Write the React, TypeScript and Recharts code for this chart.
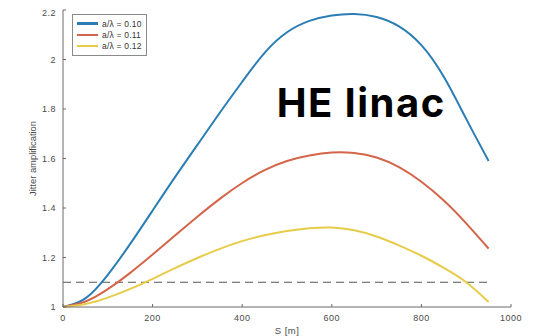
import React from 'react';
import { LineChart, Line, XAxis, YAxis, ReferenceLine, Legend } from 'recharts';

// Position along the linac, S [m]
const positions = [0, 50, 100, 150, 200, 250, 300, 350, 400, 450, 500, 550, 600, 650, 700, 750, 800, 850, 900, 950];

// Jitter amplification for each iris aperture ratio a/λ
const ampRatio010 = [1.0, 1.035, 1.13, 1.255, 1.39, 1.525, 1.655, 1.785, 1.91, 2.027, 2.11, 2.156, 2.178, 2.184, 2.172, 2.134, 2.058, 1.93, 1.76, 1.59];
const ampRatio011 = [1.0, 1.022, 1.072, 1.138, 1.212, 1.289, 1.365, 1.437, 1.501, 1.553, 1.59, 1.612, 1.624, 1.622, 1.604, 1.565, 1.506, 1.43, 1.338, 1.236];
const ampRatio012 = [1.0, 1.012, 1.038, 1.073, 1.114, 1.157, 1.198, 1.235, 1.266, 1.29, 1.307, 1.318, 1.321, 1.31, 1.285, 1.249, 1.207, 1.158, 1.1, 1.02];

const seriesNames = ['a/λ = 0.10', 'a/λ = 0.11', 'a/λ = 0.12'];
const seriesColors = ['#2b7db5', '#d4654a', '#e6cc48'];

const thresholdLevel = 1.1;
const thresholdEnd = 950;

const xTicks = [0, 200, 400, 600, 800, 1000];
const yTicks = [1, 1.2, 1.4, 1.6, 1.8, 2, 2.2];

const chartData = positions.map((s, i) => ({
  s,
  r010: ampRatio010[i],
  r011: ampRatio011[i],
  r012: ampRatio012[i],
}));

const seriesKeys = ['r010', 'r011', 'r012'];

const FONT = '"Liberation Sans", Arial, sans-serif';
const AXIS_GRAY = '#6b6b6b';
const TEXT_GRAY = '#4a4a4a';

const tickStyle = { fontSize: 9, fill: TEXT_GRAY, fontFamily: FONT, letterSpacing: 0.5 };

function LegendBox() {
  return (
    <div
      style={{
        border: '1px solid #8a8a8a',
        background: '#fff',
        padding: '3px 4px 3px 4px',
        width: 75,
        boxSizing: 'border-box',
        fontFamily: FONT,
        fontSize: 8.5,
        letterSpacing: 0.2,
        color: '#333',
      }}
    >
      {seriesNames.map((name, i) => (
        <div key={name} style={{ display: 'flex', alignItems: 'center', height: 11.3, whiteSpace: 'nowrap' }}>
          <span style={{ display: 'inline-block', width: 21, height: 2.5, background: seriesColors[i], marginRight: 4 }} />
          <span>{name}</span>
        </div>
      ))}
    </div>
  );
}

export default function App() {
  return (
    <div style={{ position: 'relative', width: 525, height: 328 }}>
      <LineChart width={525} height={328} data={chartData} margin={{ top: 2, right: 22, bottom: 0, left: 0 }}>
        <XAxis
          dataKey="s"
          type="number"
          domain={[0, 1000]}
          ticks={xTicks}
          height={29}
          stroke={AXIS_GRAY}
          tickSize={-3}
          tickMargin={11}
          tick={tickStyle}
          label={{ value: 'S [m]', position: 'insideBottom', offset: 2, style: { fontSize: 9.5, fill: TEXT_GRAY, fontFamily: FONT, letterSpacing: 0.5 } }}
        />
        <YAxis
          type="number"
          domain={[1, 2.2]}
          ticks={yTicks}
          width={55}
          stroke={AXIS_GRAY}
          tickSize={-3}
          tickMargin={10}
          tick={tickStyle}
          label={{ value: 'Jitter amplification', angle: -90, position: 'insideLeft', offset: 25, style: { fontSize: 9.4, fill: TEXT_GRAY, fontFamily: FONT, textAnchor: 'middle' } }}
        />
        <ReferenceLine
          segment={[{ x: 0, y: thresholdLevel }, { x: thresholdEnd, y: thresholdLevel }]}
          stroke="#555"
          strokeWidth={1}
          strokeDasharray="8 5"
        />
        {seriesKeys.map((k, i) => (
          <Line
            key={k}
            type="natural"
            dataKey={k}
            name={seriesNames[i]}
            stroke={seriesColors[i]}
            strokeWidth={2}
            dot={false}
            isAnimationActive={false}
          />
        ))}
        <Legend
          layout="vertical"
          align="center"
          verticalAlign="middle"
          content={() => <LegendBox />}
          wrapperStyle={{ left: 64, top: 6, width: 75, height: 'auto' }}
        />
      </LineChart>
      <svg width={525} height={328} style={{ position: 'absolute', left: 0, top: 0, pointerEvents: 'none' }}>
        <text x={268.7} y={108.7} fontFamily="Inter, 'Open Sans', sans-serif" fontWeight={700} fontSize={40} letterSpacing={1.5} fill="#000">
          HE linac
        </text>
      </svg>
    </div>
  );
}
